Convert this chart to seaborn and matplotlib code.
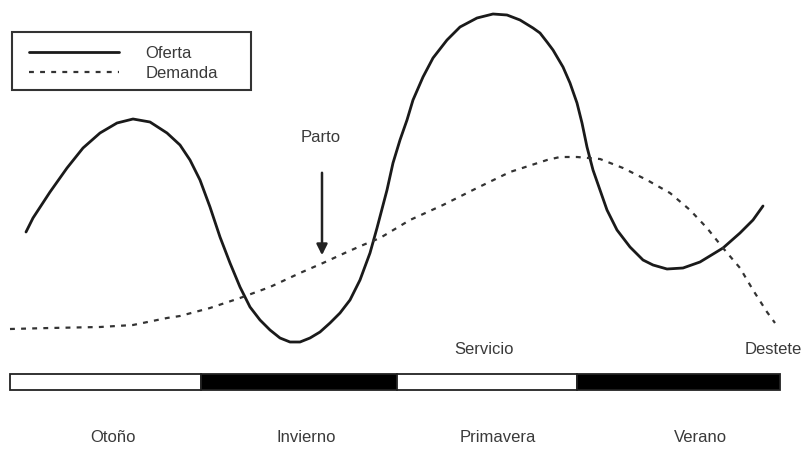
import matplotlib
matplotlib.use('Agg')
import matplotlib.pyplot as plt
import matplotlib.patches as mpatches
import seaborn as sns
import pandas as pd

# curve points (x = position along the year, y = level, top = 0)
oferta_x = [26, 33, 50, 67, 83, 100, 117, 133, 150, 167, 180, 190, 200, 210, 220,
            230, 240, 250, 260, 270, 280, 290, 300, 310, 320, 330, 340, 350, 360,
            370, 377, 387, 393, 400, 407, 413, 423, 433, 447, 460, 477, 493, 507,
            520, 533, 540, 547, 553, 563, 570, 577, 582, 587, 593, 600, 607, 617,
            630, 643, 653, 667, 683, 700, 723, 740, 753, 763]
oferta_y = [232, 218, 192, 168, 148, 133, 123, 119, 122, 133, 145, 160, 180, 207, 237,
            263, 287, 307, 320, 330, 338, 342, 342, 338, 332, 323, 313, 300, 280,
            253, 228, 190, 163, 140, 120, 100, 77, 58, 40, 27, 18, 14, 15,
            20, 28, 33, 42, 50, 67, 83, 103, 123, 147, 170, 190, 210, 230,
            247, 260, 265, 269, 268, 262, 248, 233, 220, 206]

demanda_x = [10, 50, 100, 133, 167, 180, 210, 240, 270, 300, 323, 347, 363, 380,
             410, 443, 477, 510, 547, 560, 577, 600, 623, 647, 670, 690, 707, 723,
             740, 753, 767, 775]
demanda_y = [329, 328, 327, 325, 318, 316, 308, 298, 287, 273, 263, 252, 245, 238,
             220, 205, 188, 172, 160, 157, 157, 159, 168, 180, 193, 210, 228, 248,
             268, 290, 312, 323]

seasons = ['Otoño', 'Invierno', 'Primavera', 'Verano']
season_edges = [10, 201, 397, 577, 780]
season_colors = ['white', 'black', 'white', 'black']

events = ['Servicio', 'Destete']
event_x = [484, 773]

sns.set_style('white')
plt.rcParams['font.family'] = ['Liberation Sans', 'DejaVu Sans']
fs = 12
tc = '#3a3a3a'

fig = plt.figure(figsize=(8.06, 4.63), dpi=100)
ax = fig.add_axes([0, 0, 1, 1])

of = pd.DataFrame({'x': oferta_x, 'y': oferta_y})
de = pd.DataFrame({'x': demanda_x, 'y': demanda_y})
sns.lineplot(data=of, x='x', y='y', ax=ax, color='#1a1a1a', lw=2.0, sort=False,
             label='Oferta')
sns.lineplot(data=de, x='x', y='y', ax=ax, color='#333333', lw=1.6, sort=False,
             label='Demanda')
ax.lines[1].set_linestyle((0, (2.2, 2.8)))
for ln in ax.lines:
    ln.set_solid_joinstyle('round')

# season bar
label_x = [113, 306, 498, 700]
for i, s in enumerate(seasons):
    left = season_edges[i]
    w = season_edges[i + 1] - left
    ax.barh(381.5, w, left=left, height=16, color=season_colors[i],
            edgecolor='#222222', lw=1.3)
    ax.text(label_x[i], 437, s, ha='center', va='center', fontsize=fs, color=tc)

for e, xe in zip(events, event_x):
    ax.text(xe, 350, e, ha='center', va='center', fontsize=fs, color=tc)

ax.text(321, 138, 'Parto', ha='center', va='center', fontsize=fs, color=tc)
ax.annotate('', xy=(322, 258), xytext=(322, 170),
            arrowprops=dict(arrowstyle='-|>', color='#222222', lw=1.8,
                            mutation_scale=16))

# legend box
ax.add_patch(mpatches.Rectangle((12, 32), 239, 58, fill=False,
                                edgecolor='#333333', lw=1.5))
leg = ax.legend(loc='upper left', bbox_to_anchor=(29 / 806, 1 - 46 / 463),
                frameon=False, fontsize=fs, handlelength=5.4,
                borderpad=0, labelspacing=0.27, handletextpad=1.6, borderaxespad=0)
for t in leg.get_texts():
    t.set_color(tc)

ax.set_xlim(0, 806)
ax.set_ylim(463, 0)
ax.axis('off')

fig.savefig('out.png', dpi=100)
